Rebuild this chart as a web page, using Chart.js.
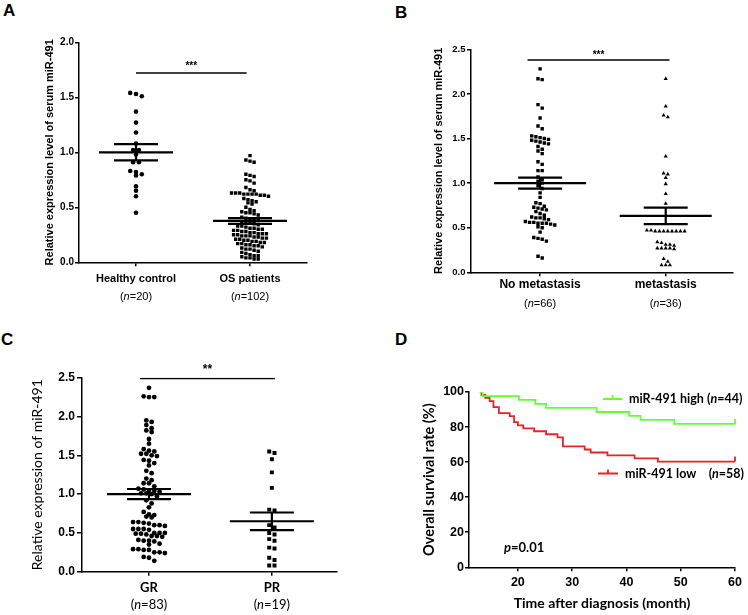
<!DOCTYPE html>
<html>
<head>
<meta charset="utf-8">
<script src="https://cdn.jsdelivr.net/npm/chart.js@4.4.0/dist/chart.umd.min.js"></script>
<style>
    body { margin: 0; background: #fff; width: 748px; height: 615px; position: relative; overflow: hidden; }
    canvas { position: absolute; }
    .tag { position: absolute; font: bold 17px/17px "Liberation Sans", Arial, sans-serif; color: #000; }
</style>
</head>
<body>
<div class="tag" style="left:3px;top:2px">A</div>
<div class="tag" style="left:395px;top:4px">B</div>
<div class="tag" style="left:1px;top:331px">C</div>
<div class="tag" style="left:395px;top:331px">D</div>
<canvas id="chartA" width="374" height="310" style="left:0;top:0"></canvas>
<canvas id="chartB" width="374" height="315" style="left:374px;top:0"></canvas>
<canvas id="chartC" width="374" height="315" style="left:0;top:300px"></canvas>
<canvas id="chartD" width="374" height="315" style="left:374px;top:300px"></canvas>
<script>
// ---- data ----
var groupsA = ['Healthy control', 'OS patients'];
var countsA = [20, 102];
var healthyControl = [1.54, 1.53, 1.51, 1.37, 1.27, 1.18, 1.08, 1.02, 1.02, 0.98, 0.91, 0.91, 0.83, 0.82, 0.80, 0.79, 0.69, 0.65, 0.60, 0.45];
var osPatients = [0.97, 0.93, 0.92, 0.91,
    0.80, 0.79, 0.78, 0.75, 0.74, 0.72,
    0.68, 0.66, 0.65,
    0.63, 0.63, 0.63, 0.62, 0.62, 0.62, 0.62, 0.61, 0.61, 0.60,
    0.58, 0.57, 0.56, 0.55, 0.54, 0.53,
    0.50, 0.48, 0.47, 0.46, 0.45, 0.45, 0.44, 0.43,
    0.41, 0.40, 0.39, 0.38, 0.38, 0.37, 0.36, 0.36, 0.35,
    0.34, 0.33, 0.33, 0.32, 0.31, 0.31, 0.30, 0.30, 0.29, 0.29, 0.28, 0.28,
    0.27, 0.27, 0.26, 0.26, 0.26, 0.25, 0.25, 0.24, 0.24, 0.24, 0.23, 0.23, 0.22, 0.22, 0.21, 0.21, 0.20, 0.20,
    0.19, 0.19, 0.18, 0.18, 0.17, 0.17, 0.16, 0.16, 0.15, 0.15, 0.14, 0.13, 0.12, 0.12, 0.11, 0.10,
    0.09, 0.08, 0.07, 0.06, 0.06, 0.05, 0.04, 0.04, 0.03, 0.03];
var meanA = [1.00, 0.376];
var semA = [0.074, 0.026];
var sigA = 1.72;

var groupsB = ['No metastasis', 'metastasis'];
var countsB = [66, 36];
var noMetastasis = [2.28, 2.17, 2.16, 1.88, 1.84, 1.73, 1.64, 1.61,
    1.53, 1.52, 1.51, 1.50, 1.49, 1.48, 1.47, 1.46, 1.45, 1.44, 1.41, 1.38, 1.36, 1.33,
    1.24, 1.21, 1.14, 1.14,
    1.07, 1.04, 1.02, 1.00, 0.97, 0.94,
    0.89, 0.84, 0.78, 0.77,
    0.74, 0.73, 0.72, 0.71, 0.70, 0.68, 0.66, 0.64,
    0.62, 0.61, 0.61, 0.60, 0.59, 0.57, 0.56, 0.56, 0.55, 0.55, 0.55, 0.54, 0.53, 0.51, 0.50, 0.45,
    0.39, 0.38, 0.37, 0.35,
    0.18, 0.16];
var metastasis = [2.17, 1.86, 1.76, 1.74, 1.30, 1.11, 1.10, 1.06, 0.99, 0.88, 0.77,
    0.47, 0.47, 0.46, 0.46, 0.46, 0.46, 0.46, 0.46, 0.46, 0.46,
    0.34, 0.33, 0.31, 0.31, 0.30,
    0.27, 0.27, 0.27, 0.27, 0.26,
    0.15, 0.12, 0.08, 0.08, 0.08];
var meanB = [1.00, 0.632];
var semB = [0.062, 0.092];
var sigB = 2.38;

var groupsC = ['GR', 'PR'];
var countsC = [83, 19];
var goodResponse = [2.37, 2.26, 2.25, 2.25,
    1.95, 1.93, 1.89, 1.85, 1.82, 1.80,
    1.71, 1.65,
    1.58, 1.56, 1.55, 1.52, 1.52, 1.50, 1.49, 1.44, 1.43, 1.40, 1.37,
    1.30, 1.27, 1.20, 1.18, 1.14, 1.14, 1.10, 1.07, 1.06,
    1.04, 1.04, 1.03, 1.01, 1.01, 1.00, 0.97, 0.92,
    0.88, 0.83, 0.77, 0.74, 0.73, 0.71, 0.70,
    0.64, 0.64, 0.63, 0.62, 0.60, 0.60, 0.59,
    0.55, 0.55, 0.55, 0.54,
    0.50, 0.50, 0.50, 0.49, 0.49, 0.48,
    0.46, 0.46, 0.45,
    0.41, 0.40, 0.40, 0.39,
    0.36, 0.35,
    0.29, 0.29, 0.28, 0.28, 0.25, 0.25, 0.24, 0.19, 0.18, 0.14];
var poorResponse = [1.55, 1.53, 1.45, 1.28, 1.08, 0.80, 0.79, 0.60, 0.57, 0.50, 0.48, 0.42, 0.40, 0.31, 0.30, 0.18, 0.15, 0.08, 0.08];
var meanC = [1.00, 0.65];
var semC = [0.066, 0.113];
var sigC = 2.49;

var monthTicks = [20, 30, 40, 50, 60];
var highMonths = [13, 13.5, 20.2, 23.2, 25.2, 34.5, 40.5, 42.6, 48.8, 60];
var highSurvival = [100, 97.7, 95.5, 93.2, 90.9, 88.6, 86.4, 84.1, 81.8, 81.8];
var lowMonths = [13, 13.3, 14, 14.8, 15.5, 16.5, 18.5, 19.3, 20, 21, 23, 25.2, 27.3, 28.3, 32.3, 33.4, 36.5, 41.5, 45.8, 60];
var lowSurvival = [100, 98.3, 96.6, 94.8, 91.4, 87.9, 86.2, 82.8, 81.0, 79.3, 77.6, 75.9, 74.1, 69.0, 67.2, 65.5, 63.8, 62.1, 60.3, 60.3];

Chart.defaults.font.family = '"Liberation Sans", Arial, sans-serif';
Chart.defaults.color = '#000';
Chart.defaults.animation = false;

var ARIAL = '"Liberation Sans", Arial, sans-serif';
var LATO = 'Lato, "Liberation Sans", sans-serif';

// lay points of one column out in rows, like a scatter dot plot
function swarm(values, center, rowH, dx) {
    var sorted = values.slice().sort(function (a, b) { return b - a; });
    var pts = [], row = [];
    function flush() {
        row.forEach(function (v, j) {
            pts.push({ x: center + (j - (row.length - 1) / 2) * dx, y: v });
        });
        row = [];
    }
    sorted.forEach(function (v) {
        if (row.length && row[0] - v > rowH) flush();
        row.push(v);
    });
    flush();
    return pts;
}

function meanBars(i, m, s, wm, ws) {
    return [
        { x: i - wm, y: m }, { x: i + wm, y: m }, { x: i, y: null },
        { x: i - ws, y: m + s }, { x: i + ws, y: m + s }, { x: i, y: null },
        { x: i - ws, y: m - s }, { x: i + ws, y: m - s }, { x: i, y: null },
        { x: i, y: m - s }, { x: i, y: m + s }
    ];
}

// text made of pieces with different fonts
function richText(ctx, parts, x, y, align) {
    var total = 0;
    parts.forEach(function (p) { ctx.font = p[1]; p.w = ctx.measureText(p[0]).width; total += p.w; });
    var cx = align === 'center' ? x - total / 2 : (align === 'right' ? x - total : x);
    ctx.textAlign = 'left';
    ctx.textBaseline = 'middle';
    parts.forEach(function (p) { ctx.font = p[1]; ctx.fillText(p[0], cx, y); cx += p.w; });
}

function axisLook(tickLen) {
    return {
        grid: { display: true, drawOnChartArea: false, drawTicks: true, tickLength: tickLen, color: '#000', lineWidth: 1.5 },
        border: { display: true, color: '#000', width: 1.5 }
    };
}

function dotPanel(id, o) {
    var cv = document.getElementById(id);
    var W = cv.width, H = cv.height, box = o.box;
    var xPx = (box[2] - box[0]) / (o.xMax - o.xMin);
    var yPx = (box[3] - box[1]) / o.yMax;
    var datasets = [];
    o.means.forEach(function (m, i) {
        datasets.push({ data: meanBars(i, m, o.sems[i], o.meanHalf / xPx, o.semHalf / xPx),
            showLine: true, spanGaps: false, borderColor: '#000', borderWidth: 2.2, pointRadius: 0 });
    });
    datasets.push({ data: [{ x: o.sigX[0], y: o.sigY }, { x: o.sigX[1], y: o.sigY }],
        showLine: true, borderColor: '#000', borderWidth: 1.5, pointRadius: 0 });
    o.series.forEach(function (vals, i) {
        var mk = o.marks[i];
        datasets.push({ data: swarm(vals, i, mk.row / yPx, mk.dx / xPx),
            pointStyle: mk.style, pointRadius: mk.r, backgroundColor: '#000', borderWidth: 0 });
    });
    var gx = axisLook(4), gy = axisLook(o.yTick);
    return new Chart(cv, {
        type: 'scatter',
        data: { datasets: datasets },
        options: {
            responsive: false,
            events: [],
            layout: { padding: { left: 0, top: box[1], right: W - box[2], bottom: 0 } },
            plugins: { legend: { display: false }, tooltip: { enabled: false } },
            scales: {
                x: {
                    type: 'linear', min: o.xMin, max: o.xMax,
                    afterBuildTicks: function (s) { s.ticks = o.groups.map(function (g, i) { return { value: i }; }); },
                    afterFit: function (s) { s.height = H - box[3]; },
                    ticks: { autoSkip: false, maxRotation: 0, padding: o.xPad, font: o.catFont,
                        callback: function (v) { return o.groups[Math.round(v)]; } },
                    grid: gx.grid, border: gx.border
                },
                y: {
                    min: 0, max: o.yMax,
                    afterFit: function (s) { s.width = box[0]; },
                    ticks: { stepSize: 0.5, padding: o.yPad, font: o.tickFont,
                        callback: function (v) { return v.toFixed(1); } },
                    title: { display: true, text: o.title, font: o.titleFont, padding: { top: o.titlePad, bottom: 0 } },
                    grid: gy.grid, border: gy.border
                }
            }
        },
        plugins: [{
            id: 'notes',
            afterDraw: function (chart) {
                var ctx = chart.ctx, x = chart.scales.x, y = chart.scales.y;
                ctx.save();
                ctx.fillStyle = '#000';
                ctx.font = o.starFont;
                ctx.textAlign = 'center';
                ctx.textBaseline = 'alphabetic';
                ctx.fillText(o.stars, x.getPixelForValue((o.sigX[0] + o.sigX[1]) / 2), y.getPixelForValue(o.sigY) - o.starLift);
                o.counts.forEach(function (n, i) {
                    richText(ctx, [['(', o.nFont], ['n', 'italic ' + o.nFont], ['=' + n + ')', o.nFont]],
                        x.getPixelForValue(i), o.nY, 'center');
                });
                ctx.restore();
            }
        }]
    });
}

dotPanel('chartA', {
    box: [79, 42.3, 307, 262.3], xMin: -0.5, xMax: 1.5, yMax: 2.0, yTick: 4, yPad: 1, xPad: 6,
    groups: groupsA, counts: countsA, series: [healthyControl, osPatients],
    means: meanA, sems: semA, meanHalf: 37, semHalf: 22,
    sigX: [0, 0.97], sigY: sigA, stars: '***', starFont: 'bold 10px ' + ARIAL, starLift: 4,
    marks: [{ style: 'circle', r: 2.3, row: 4, dx: 5.8 }, { style: 'rect', r: 2.4, row: 3.4, dx: 4.1 }],
    title: 'Relative expression level of serum miR-491',
    titleFont: { size: 11, weight: 'bold', family: ARIAL }, titlePad: 43.4,
    tickFont: { size: 10, weight: 'bold', family: ARIAL },
    catFont: { size: 11, weight: 'bold', family: ARIAL },
    nFont: '11px ' + ARIAL, nY: 297
});

dotPanel('chartB', {
    box: [97, 49.3, 358.3, 272.3], xMin: -0.55, xMax: 1.53, yMax: 2.5, yTick: 4, yPad: 1.5, xPad: 1,
    groups: groupsB, counts: countsB, series: [noMetastasis, metastasis],
    means: meanB, sems: semB, meanHalf: 46, semHalf: 22,
    sigX: [-0.1, 1.03], sigY: sigB, stars: '***', starFont: 'bold 10px ' + ARIAL, starLift: 2.3,
    marks: [{ style: 'rect', r: 2.4, row: 3.6, dx: 4.2 }, { style: 'triangle', r: 2.4, row: 3.6, dx: 4.2 }],
    title: 'Relative expression level of serum miR-491',
    titleFont: { size: 11, weight: 'bold', family: ARIAL }, titlePad: 58.4,
    tickFont: { size: 9.5, weight: 'bold', family: ARIAL },
    catFont: { size: 12, weight: 'bold', family: ARIAL },
    nFont: '11px ' + ARIAL, nY: 304
});

dotPanel('chartC', {
    box: [82, 77.7, 337, 271.7], xMin: -0.545, xMax: 1.53, yMax: 2.5, yTick: 5, yPad: 2, xPad: 4.5,
    groups: groupsC, counts: countsC, series: [goodResponse, poorResponse],
    means: meanC, sems: semC, meanHalf: 42, semHalf: 22,
    sigX: [-0.073, 1.025], sigY: sigC, stars: '**', starFont: 'bold 12px ' + ARIAL, starLift: 5.4,
    marks: [{ style: 'circle', r: 2.4, row: 4.6, dx: 5.3 }, { style: 'rect', r: 2.8, row: 4.2, dx: 5.3 }],
    title: 'Relative expression of miR-491',
    titleFont: { size: 14, weight: 'normal', family: LATO }, titlePad: 28.6,
    tickFont: { size: 12, weight: 'bold', family: ARIAL },
    catFont: { size: 13, weight: 'bold', family: LATO },
    nFont: '13px ' + LATO, nY: 305
});

// ---- panel D: Kaplan-Meier curves ----
var green = '#66ff33', red = '#e3242b';
var cvD = document.getElementById('chartD');
var boxD = [95, 92, 361, 267.3];
var lookX = axisLook(4), lookY = axisLook(4);

function steps(months, surv) {
    return months.map(function (m, i) { return { x: m, y: surv[i] }; });
}

new Chart(cvD, {
    type: 'line',
    data: {
        datasets: [
            { data: steps(highMonths, highSurvival), stepped: true, borderColor: green, borderWidth: 1.8, pointRadius: 0, fill: false },
            { data: steps(lowMonths, lowSurvival), stepped: true, borderColor: red, borderWidth: 1.8, pointRadius: 0, fill: false }
        ]
    },
    options: {
        responsive: false,
        events: [],
        layout: { padding: { left: 0, top: boxD[1], right: cvD.width - boxD[2], bottom: 0 } },
        plugins: { legend: { display: false }, tooltip: { enabled: false } },
        scales: {
            x: {
                type: 'linear', min: 11, max: 60,
                afterBuildTicks: function (s) { s.ticks = monthTicks.map(function (v) { return { value: v }; }); },
                afterFit: function (s) { s.height = cvD.height - boxD[3]; },
                ticks: { autoSkip: false, maxRotation: 0, padding: 4.2, font: { size: 12.5, weight: 'bold', family: ARIAL } },
                title: { display: true, text: 'Time after diagnosis (month)', font: { size: 14, weight: 'bold', family: LATO }, padding: { top: 0, bottom: 3.6 } },
                grid: lookX.grid, border: lookX.border
            },
            y: {
                min: 0, max: 100,
                afterFit: function (s) { s.width = boxD[0]; },
                ticks: { stepSize: 20, padding: 1, font: { size: 12.5, weight: 'bold', family: ARIAL } },
                title: { display: true, text: 'Overall survival rate (%)', font: { size: 14.5, weight: 'bold', family: LATO }, padding: { top: 46.3, bottom: 0 } },
                grid: lookY.grid, border: lookY.border
            }
        }
    },
    plugins: [{
        id: 'kmNotes',
        afterDraw: function (chart) {
            var ctx = chart.ctx, x = chart.scales.x, y = chart.scales.y;
            var bold = 'bold 12.5px ' + LATO;
            ctx.save();
            // censor marks at the end of each curve
            ctx.lineWidth = 1.8;
            [[highMonths, highSurvival, green], [lowMonths, lowSurvival, red]].forEach(function (c) {
                var last = c[0].length - 1;
                var px = x.getPixelForValue(c[0][last]), py = y.getPixelForValue(c[1][last]);
                ctx.strokeStyle = c[2];
                ctx.beginPath(); ctx.moveTo(px, py); ctx.lineTo(px, py - 5); ctx.stroke();
            });
            // legend
            [[229, 248, 99, green], [224, 244, 173.5, red]].forEach(function (l) {
                ctx.strokeStyle = l[3];
                ctx.beginPath();
                ctx.moveTo(l[0], l[2]); ctx.lineTo(l[1], l[2]);
                ctx.moveTo((l[0] + l[1]) / 2, l[2]); ctx.lineTo((l[0] + l[1]) / 2, l[2] - 4);
                ctx.stroke();
            });
            ctx.fillStyle = '#000';
            richText(ctx, [['miR-491 high (', bold], ['n', 'italic ' + bold], ['=44)', bold]], 255, 99, 'left');
            richText(ctx, [['miR-491 low', bold]], 251, 174, 'left');
            richText(ctx, [['(', bold], ['n', 'italic ' + bold], ['=58)', bold]], 370, 174, 'right');
            richText(ctx, [['p', 'italic ' + 'bold 13px ' + LATO], ['=0.01', 'bold 13px ' + LATO]], 130, 248, 'left');
            ctx.restore();
        }
    }]
});
</script>
</body>
</html>
